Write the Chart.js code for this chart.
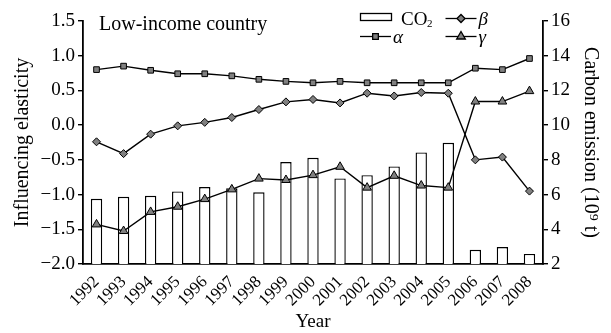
<!DOCTYPE html>
<html>
<head>
<meta charset="utf-8">
<script src="https://cdn.jsdelivr.net/npm/chart.js@4"></script>
<style>
  html, body { margin: 0; padding: 0; background: #fff; }
  #wrap { width: 611px; height: 333px; }
</style>
</head>
<body>
<div id="wrap"><canvas id="chart" width="611" height="333"></canvas></div>
<script>
const FONT = '"Liberation Serif", "Times New Roman", serif';

const YEARS = ["1992", "1993", "1994", "1995", "1996", "1997", "1998", "1999", "2000",
  "2001", "2002", "2003", "2004", "2005", "2006", "2007", "2008"];

// carbon emission, right axis (10^9 t)
const CO2 = [5.76, 5.87, 5.93, 6.18, 6.43, 6.36, 6.13, 7.87, 8.12,
  6.93, 7.12, 7.62, 8.43, 8.98, 2.82, 2.98, 2.58];

// elasticities, left axis
const ALPHA = [0.80, 0.85, 0.79, 0.74, 0.74, 0.71, 0.66, 0.63, 0.61,
  0.63, 0.61, 0.61, 0.61, 0.61, 0.82, 0.80, 0.96];
const BETA = [-0.24, -0.41, -0.13, -0.01, 0.04, 0.11, 0.225, 0.335, 0.37,
  0.32, 0.46, 0.42, 0.47, 0.46, -0.50, -0.46, -0.95];
const GAMMA = [-1.43, -1.525, -1.25, -1.175, -1.065, -0.925, -0.77, -0.79, -0.72,
  -0.60, -0.90, -0.73, -0.87, -0.90, 0.34, 0.34, 0.49];

const LEFT_TICKS = [1.5, 1.0, 0.5, 0.0, -0.5, -1.0, -1.5, -2.0];
const RIGHT_TICKS = [16, 14, 12, 10, 8, 6, 4, 2];

const lineStyle = (label, data, shape, radius) => ({
  type: "line",
  label,
  data,
  yAxisID: "y",
  borderColor: "#000",
  borderWidth: 1.4,
  pointStyle: shape,
  pointRadius: radius,
  pointBackgroundColor: "#808080",
  pointBorderColor: "#000",
  pointBorderWidth: 1,
  tension: 0,
  order: 1
});

// title and the two-row legend drawn on top of the chart
const overlay = {
  id: "overlay",
  afterDraw(chart) {
    const ctx = chart.ctx;
    const ds = chart.data.datasets;
    ctx.save();
    ctx.fillStyle = "#000";
    ctx.textBaseline = "alphabetic";
    ctx.font = `20px ${FONT}`;
    ctx.fillText("Low-income country", 99, 30);

    // CO2 box
    ctx.strokeStyle = "#000";
    ctx.lineWidth = 1.3;
    ctx.strokeRect(360.5, 13.5, 31, 7);
    ctx.font = `19px ${FONT}`;
    ctx.fillText("CO", 401, 25);
    ctx.font = `11px ${FONT}`;
    ctx.fillText("2", 427, 27);

    const sample = (x, y, d, txt) => {
      ctx.beginPath();
      ctx.moveTo(x, y);
      ctx.lineTo(x + 31, y);
      ctx.strokeStyle = "#000";
      ctx.lineWidth = 1.3;
      ctx.stroke();
      ctx.fillStyle = "#808080";
      Chart.helpers.drawPoint(ctx, {
        pointStyle: d.pointStyle,
        radius: d.pointRadius,
        rotation: 0,
        borderWidth: 1
      }, x + 15.5, y);
      ctx.fillStyle = "#000";
      ctx.font = `italic 19px ${FONT}`;
      ctx.fillText(txt, x + 33, y + 6);
    };
    sample(445.5, 18.5, ds[2], "β");
    sample(360, 36.5, ds[1], "α");
    sample(445.5, 36.5, ds[3], "γ");
    ctx.restore();
  }
};

const minus = v => (v < 0 ? "\u2212" : "") + Math.abs(v).toFixed(1);

new Chart(document.getElementById("chart"), {
  data: {
    labels: YEARS,
    datasets: [
      {
        type: "bar",
        label: "CO2",
        data: CO2,
        yAxisID: "y1",
        backgroundColor: "#fff",
        borderColor: "#000",
        borderWidth: 1.4,
        barPercentage: 0.42,
        categoryPercentage: 1,
        order: 4
      },
      lineStyle("α", ALPHA, "rect", 4),
      lineStyle("β", BETA, "rectRot", 4),
      lineStyle("γ", GAMMA, "triangle", 5)
    ]
  },
  options: {
    responsive: false,
    animation: false,
    layout: { padding: { top: 21, left: 0, right: 0, bottom: 0 } },
    plugins: {
      legend: { display: false },
      tooltip: { enabled: false }
    },
    scales: {
      x: {
        offset: true,
        grid: { display: false },
        border: { color: "#000", width: 1.8 },
        ticks: {
          color: "#000",
          font: { family: FONT, size: 17 },
          minRotation: 45,
          maxRotation: 45,
          autoSkip: false,
          padding: 0
        },
        title: {
          display: true,
          text: "Year",
          color: "#000",
          font: { family: FONT, size: 19 },
          padding: { top: 0, bottom: 0 }
        },
        afterFit(scale) { scale.height = 69; }
      },
      y: {
        position: "left",
        min: -2,
        max: 1.5,
        afterBuildTicks(scale) { scale.ticks = LEFT_TICKS.map(v => ({ value: v })); },
        grid: { drawOnChartArea: false, color: "#000", tickLength: 5, lineWidth: 1.4 },
        border: { color: "#000", width: 1.8 },
        ticks: {
          color: "#000",
          font: { family: FONT, size: 19 },
          padding: 3,
          callback: v => minus(v)
        },
        title: {
          display: true,
          text: "Influencing elasticity",
          color: "#000",
          font: { family: FONT, size: 20 },
          padding: { top: 11, bottom: 0 }
        },
        afterFit(scale) { scale.width = 83; }
      },
      y1: {
        position: "right",
        min: 2,
        max: 16,
        afterBuildTicks(scale) { scale.ticks = RIGHT_TICKS.map(v => ({ value: v })); },
        grid: { drawOnChartArea: false, color: "#000", tickLength: 5, lineWidth: 1.4 },
        border: { color: "#000", width: 1.8 },
        ticks: {
          color: "#000",
          font: { family: FONT, size: 19 },
          padding: 3
        },
        title: {
          display: true,
          text: "Carbon emission (10⁹ t)",
          color: "#000",
          font: { family: FONT, size: 20 },
          padding: { top: 9, bottom: 0 }
        },
        afterFit(scale) { scale.width = 68; }
      }
    }
  },
  plugins: [overlay]
});
</script>
</body>
</html>
